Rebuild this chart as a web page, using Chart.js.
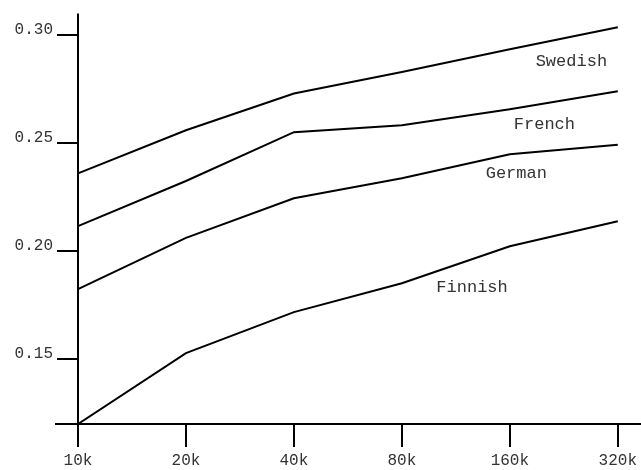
<!DOCTYPE html>
<html>
<head>
<meta charset="utf-8">
<script src="https://cdn.jsdelivr.net/npm/chart.js@4"></script>
<style>
  html, body { margin: 0; padding: 0; background: #fff; }
  #wrap { width: 641px; height: 470px; }
</style>
</head>
<body>
<div id="wrap"><canvas id="c"></canvas></div>
<script>
// Training-set sizes along the x axis
const categories = ['10k', '20k', '40k', '80k', '160k', '320k'];

// Scores per language
const swedish = [0.236, 0.256, 0.273, 0.283, 0.2935, 0.3037];
const french  = [0.2116, 0.2325, 0.2551, 0.2583, 0.2657, 0.2741];
const german  = [0.1824, 0.2062, 0.2245, 0.2338, 0.2449, 0.2493];
const finnish = [0.120, 0.1528, 0.1718, 0.1852, 0.2023, 0.2139];

// Y axis tick values
const yTicks = [0.15, 0.20, 0.25, 0.30];

// Inline series names: [text, x position (category index), y value]
const seriesLabels = [
  ['Swedish', 4.57, 0.2877],
  ['French',  4.32, 0.2585],
  ['German',  4.06, 0.2358],
  ['Finnish', 3.65, 0.1832]
];

const FONT = '"Liberation Mono", "Courier New", monospace';
const TEXT = '#333';

function lineSet(label, data) {
  return {
    label, data,
    borderColor: '#000',
    borderWidth: 2,
    pointRadius: 0,
    tension: 0,
    fill: false
  };
}

// Axis lines that run past the plot area, plus the inline series names
const axesAndNames = {
  id: 'axesAndNames',
  afterDraw(chart) {
    const { ctx, scales: { x, y } } = chart;
    const x0 = x.getPixelForValue(0);
    const yBase = y.getPixelForValue(0.12);
    ctx.save();
    ctx.strokeStyle = '#000';
    ctx.lineWidth = 2;
    ctx.beginPath();
    ctx.moveTo(55, yBase);
    ctx.lineTo(chart.width, yBase);
    ctx.moveTo(x0, y.getPixelForValue(0.31));
    ctx.lineTo(x0, yBase);
    ctx.stroke();

    ctx.fillStyle = TEXT;
    ctx.font = '17px ' + FONT;
    ctx.textAlign = 'center';
    ctx.textBaseline = 'middle';
    seriesLabels.forEach(([t, xi, v]) => {
      ctx.fillText(t, x.getPixelForValue(xi), y.getPixelForValue(v));
    });
    ctx.restore();
  }
};

new Chart(document.getElementById('c'), {
  type: 'line',
  data: {
    labels: categories,
    datasets: [
      lineSet('Swedish', swedish),
      lineSet('French', french),
      lineSet('German', german),
      lineSet('Finnish', finnish)
    ]
  },
  options: {
    responsive: true,
    maintainAspectRatio: false,
    animation: false,
    layout: { padding: { top: 13, right: 21, left: 0, bottom: 0 } },
    plugins: { legend: { display: false }, tooltip: { enabled: false } },
    scales: {
      x: {
        type: 'category',
        offset: false,
        border: { display: false },
        grid: {
          drawOnChartArea: false,
          drawTicks: true,
          tickLength: 23,
          color: '#000',
          lineWidth: 2
        },
        ticks: {
          color: TEXT,
          font: { family: FONT, size: 16 },
          padding: 4,
          maxRotation: 0,
          autoSkip: false
        },
        afterFit(s) { s.height = 46; }
      },
      y: {
        min: 0.12,
        max: 0.31,
        border: { display: false },
        grid: {
          drawOnChartArea: false,
          drawTicks: true,
          tickLength: 21,
          color: '#000',
          lineWidth: 2
        },
        ticks: {
          color: TEXT,
          font: { family: FONT, size: 16 },
          padding: 4,
          labelOffset: -5,
          callback: v => v.toFixed(2)
        },
        afterBuildTicks(s) { s.ticks = yTicks.map(v => ({ value: v })); },
        afterFit(s) { s.width = 78; }
      }
    }
  },
  plugins: [axesAndNames]
});
</script>
</body>
</html>
